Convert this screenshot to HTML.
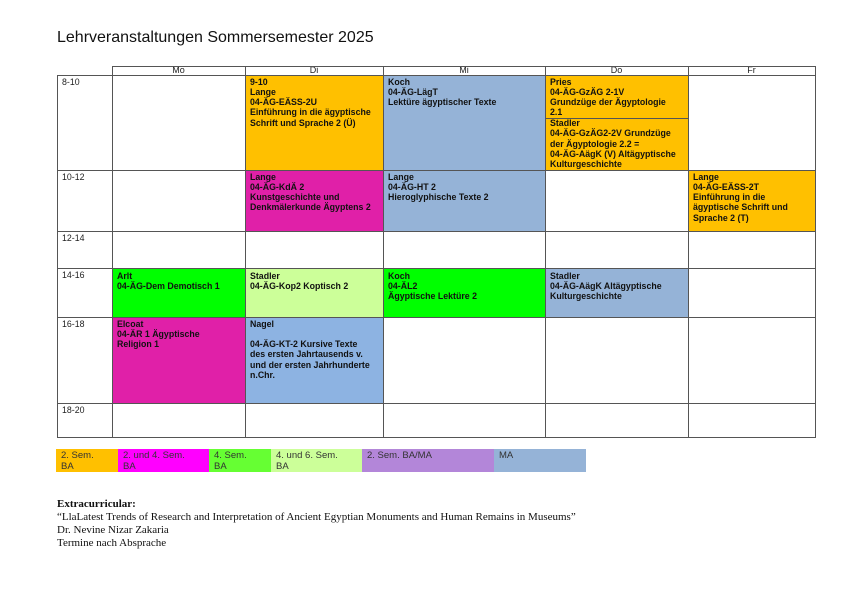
<!DOCTYPE html>
<html><head><meta charset="utf-8"><style>
body{margin:0;width:842px;height:595px;background:#fff;position:relative;font-family:"Liberation Sans",sans-serif;overflow:hidden}
.a{position:absolute}
.c{position:absolute;font-size:8.8px;font-weight:bold;line-height:10.3px;padding:1.5px 0 0 5px;box-sizing:border-box;color:#111;letter-spacing:0}
.t{position:absolute;font-size:8.8px;left:62px;color:#222}
.h{position:absolute;top:66px;height:9px;font-size:9px;text-align:center;line-height:9px;color:#222}
.v{position:absolute;width:1px;background:#555}
.hl{position:absolute;height:1px;background:#555;left:57px;width:758px}
.lg{position:absolute;top:449px;height:23px;font-size:9.5px;line-height:11px;padding:1px 0 0 5px;box-sizing:border-box;color:#333}
.s{font-family:"Liberation Serif",serif;font-size:11px;position:absolute;left:57px;color:#111}
</style></head><body>
<div class="a" style="left:57px;top:29px;font-size:16px;color:#111">Lehrveranstaltungen Sommersemester 2025</div>

<div class="c" style="left:245px;top:75px;width:138px;height:95px;background:#FFC000">9-10<br>Lange<br>04-ÄG-EÄSS-2U<br>Einführung in die ägyptische<br>Schrift und Sprache 2 (Ü)</div>
<div class="c" style="left:383px;top:75px;width:162px;height:95px;background:#95B3D7">Koch<br>04-ÄG-LägT<br>Lektüre ägyptischer Texte</div>
<div class="c" style="left:545px;top:75px;width:143px;height:43px;background:#FFC000">Pries<br>04-ÄG-GzÄG 2-1V<br>Grundzüge der Ägyptologie<br>2.1</div>
<div class="c" style="left:545px;top:118px;width:143px;height:52px;background:#FFC000;padding-top:0">Stadler<br>04-ÄG-GzÄG2-2V Grundzüge<br>der Ägyptologie 2.2 =<br>04-ÄG-AägK (V) Altägyptische<br>Kulturgeschichte</div>
<div class="c" style="left:245px;top:170px;width:138px;height:61px;background:#E020A8">Lange<br>04-ÄG-KdÄ 2<br>Kunstgeschichte und<br>Denkmälerkunde Ägyptens 2</div>
<div class="c" style="left:383px;top:170px;width:162px;height:61px;background:#95B3D7">Lange<br>04-ÄG-HT 2<br>Hieroglyphische Texte 2</div>
<div class="c" style="left:688px;top:170px;width:127px;height:61px;background:#FFC000">Lange<br>04-ÄG-EÄSS-2T<br>Einführung in die<br>ägyptische Schrift und<br>Sprache 2 (T)</div>
<div class="c" style="left:112px;top:269px;width:133px;height:48px;background:#00FF00">Arlt<br>04-ÄG-Dem Demotisch 1</div>
<div class="c" style="left:245px;top:269px;width:138px;height:48px;background:#CCFF99">Stadler<br>04-ÄG-Kop2 Koptisch 2</div>
<div class="c" style="left:383px;top:269px;width:162px;height:48px;background:#00FF00">Koch<br>04-ÄL2<br>Ägyptische Lektüre 2</div>
<div class="c" style="left:545px;top:269px;width:143px;height:48px;background:#95B3D7">Stadler<br>04-ÄG-AägK Altägyptische<br>Kulturgeschichte</div>
<div class="c" style="left:112px;top:317px;width:133px;height:86px;background:#E020A8">Elcoat<br>04-ÄR 1 Ägyptische<br>Religion 1</div>
<div class="c" style="left:245px;top:317px;width:138px;height:86px;background:#8DB3E2">Nagel<br><br>04-ÄG-KT-2 Kursive Texte<br>des ersten Jahrtausends v.<br>und der ersten Jahrhunderte<br>n.Chr.</div>

<div class="h" style="left:112px;width:133px">Mo</div>
<div class="h" style="left:245px;width:138px">Di</div>
<div class="h" style="left:383px;width:162px">Mi</div>
<div class="h" style="left:545px;width:143px">Do</div>
<div class="h" style="left:688px;width:127px">Fr</div>

<div class="t" style="top:77px">8-10</div>
<div class="t" style="top:172px">10-12</div>
<div class="t" style="top:233px">12-14</div>
<div class="t" style="top:270px">14-16</div>
<div class="t" style="top:319px">16-18</div>
<div class="t" style="top:405px">18-20</div>

<div class="a" style="left:112px;top:66px;width:703px;height:1px;background:#555"></div>
<div class="hl" style="top:75px"></div>
<div class="hl" style="top:170px"></div>
<div class="hl" style="top:231px"></div>
<div class="hl" style="top:268px"></div>
<div class="hl" style="top:317px"></div>
<div class="hl" style="top:403px"></div>
<div class="hl" style="top:437px"></div>
<div class="a" style="left:545px;top:118px;width:143px;height:1px;background:#555"></div>
<div class="v" style="left:57px;top:75px;height:363px"></div>
<div class="v" style="left:112px;top:66px;height:372px"></div>
<div class="v" style="left:245px;top:66px;height:372px"></div>
<div class="v" style="left:383px;top:66px;height:372px"></div>
<div class="v" style="left:545px;top:66px;height:372px"></div>
<div class="v" style="left:688px;top:66px;height:372px"></div>
<div class="v" style="left:815px;top:66px;height:372px"></div>

<div class="lg" style="left:56px;width:62px;background:#FFC000">2. Sem.<br>BA</div>
<div class="lg" style="left:118px;width:91px;background:#FF00FF">2. und 4. Sem.<br>BA</div>
<div class="lg" style="left:209px;width:62px;background:#66FF33">4. Sem.<br>BA</div>
<div class="lg" style="left:271px;width:91px;background:#CCFF99">4. und 6. Sem.<br>BA</div>
<div class="lg" style="left:362px;width:132px;background:#B386D9">2. Sem. BA/MA</div>
<div class="lg" style="left:494px;width:92px;background:#95B3D7">MA</div>

<div class="s" style="top:498px;font-weight:bold">Extracurricular:</div>
<div class="s" style="top:511px">“LlaLatest Trends of Research and Interpretation of Ancient Egyptian Monuments and Human Remains in Museums”</div>
<div class="s" style="top:524px">Dr. Nevine Nizar Zakaria</div>
<div class="s" style="top:537px">Termine nach Absprache</div>
</body></html>
